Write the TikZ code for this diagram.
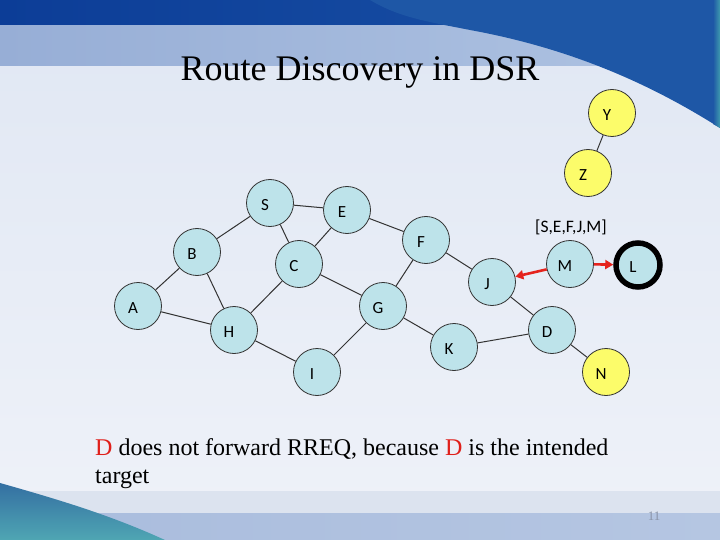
\documentclass[tikz,border=0pt]{standalone}
\usepackage{fontspec}
\setmainfont{Liberation Serif}
\newfontfamily\carlito{Carlito}
\usetikzlibrary{arrows.meta}
\definecolor{bgtop}{HTML}{E0E7F3}
\definecolor{bgbot}{HTML}{EFF2F9}
\definecolor{bandL}{HTML}{97AED6}
\definecolor{bandR}{HTML}{AFC3E2}
\definecolor{topL}{HTML}{0C3D97}
\definecolor{topR}{HTML}{1A52A6}
\definecolor{darkcurve}{HTML}{1E57A6}
\definecolor{tealstrip}{HTML}{3F9BAE}
\definecolor{botband}{HTML}{DCE3EF}
\definecolor{botL}{HTML}{A9BCDD}
\definecolor{botR}{HTML}{B5C6E2}
\definecolor{swooshT}{HTML}{346FA2}
\definecolor{swooshB}{HTML}{4FA6B3}
\definecolor{nodecyan}{HTML}{BDE3EA}
\definecolor{nodeyellow}{HTML}{FCFC6A}
\definecolor{edgegray}{HTML}{333333}
\definecolor{arrowred}{HTML}{E5231D}
\definecolor{textred}{HTML}{E0201B}
\definecolor{pagegray}{HTML}{8A94A8}
\tikzset{
  netnode/.style={circle, minimum size=47pt, inner sep=0pt, draw=edgegray, line width=0.8pt, fill=nodecyan},
  ynode/.style={netnode, fill=nodeyellow},
  lbl/.style={label={[xshift=-5pt,yshift=-2pt,font=\carlito\fontsize{17}{17}\selectfont]center:#1}},
  link/.style={draw=edgegray, line width=1pt},
  redarrow/.style={draw=arrowred, line width=2.6pt, -{Triangle[length=8pt,width=9pt]}}
}
\begin{document}
\begin{tikzpicture}[x=1pt,y=-1pt]
\useasboundingbox (0,0) rectangle (720,540);
% background
\shade[top color=bgtop,bottom color=bgbot] (0,0) rectangle (720,540);
\shade[left color=bandL,right color=bandR] (0,25) rectangle (720,66);
\shade[left color=topL,right color=topR] (0,0) rectangle (720,25);
\fill[darkcurve] (370,0) .. controls (400,18) and (430,22) .. (470,30)
  .. controls (580,50) and (660,90) .. (720,128) -- (720,0) -- cycle;
\shade[left color=darkcurve,right color=tealstrip] (713,0) -- (720,0) -- (720,128) -- (713,124) -- cycle;
\fill[botband] (0,491) rectangle (720,513);
\shade[left color=botL,right color=botR] (0,513) rectangle (720,540);
\shade[top color=swooshT,bottom color=swooshB] (0,483) .. controls (60,500) and (110,515) .. (165,540) -- (0,540) -- cycle;
\node[text=pagegray,font=\fontsize{13}{13}\selectfont] (pg) at (654,516) {11};

% title
\node[anchor=base,font=\fontsize{36}{40}\selectfont] (title) at (360,81) {Route Discovery in DSR};

% nodes
\node[netnode,lbl=S] (S) at (270,203) {};
\node[netnode,lbl=E] (E) at (347,210) {};
\node[netnode,lbl=B] (B) at (197,252) {};
\node[netnode,lbl=C] (C) at (299,264) {};
\node[netnode,lbl=F] (F) at (426,240) {};
\node[netnode,lbl=A] (A) at (138,306) {};
\node[netnode,lbl=H] (H) at (234,330) {};
\node[netnode,lbl=G] (G) at (383,306) {};
\node[netnode,lbl=I] (I) at (317,372) {};
\node[netnode,lbl=K] (K) at (454,347) {};
\node[netnode,lbl=J] (J) at (492,282) {};
\node[netnode,lbl=D] (D) at (552,330) {};
\node[netnode,lbl=M] (M) at (570,264) {};
\node[netnode,lbl=L,line width=5.5pt,draw=black,minimum size=44pt] (L) at (638,265) {};
\node[ynode,lbl=N] (N) at (606,372) {};
\node[ynode,lbl=Y] (Y) at (612,113) {};
\node[ynode,lbl=Z] (Z) at (588,173) {};

% links
\draw[link] (A) -- (B);
\draw[link] (A) -- (H);
\draw[link] (B) -- (S);
\draw[link] (B) -- (H);
\draw[link] (S) -- (E);
\draw[link] (S) -- (C);
\draw[link] (E) -- (C);
\draw[link] (E) -- (F);
\draw[link] (C) -- (H);
\draw[link] (C) -- (G);
\draw[link] (F) -- (G);
\draw[link] (F) -- (J);
\draw[link] (G) -- (I);
\draw[link] (G) -- (K);
\draw[link] (H) -- (I);
\draw[link] (K) -- (D);
\draw[link] (J) -- (D);
\draw[link] (D) -- (N);
\draw[link] (Y) -- (Z);

% red arrows
\draw[redarrow] (M) -- (J);
\draw[redarrow] (M) -- (L);
\node[font=\carlito\fontsize{17.5}{17.5}\selectfont] (path) at (571,227) {[S,E,F,J,M]};

% caption
\node[anchor=base west,inner sep=0pt,font=\fontsize{24}{28}\selectfont] (cap1) at (95,455)
  {\textcolor{textred}{D} does not forward RREQ, because \textcolor{textred}{D} is the intended};
\node[anchor=base west,inner sep=0pt,font=\fontsize{24}{28}\selectfont] (cap2) at (95,483) {target};
\end{tikzpicture}
\end{document}
